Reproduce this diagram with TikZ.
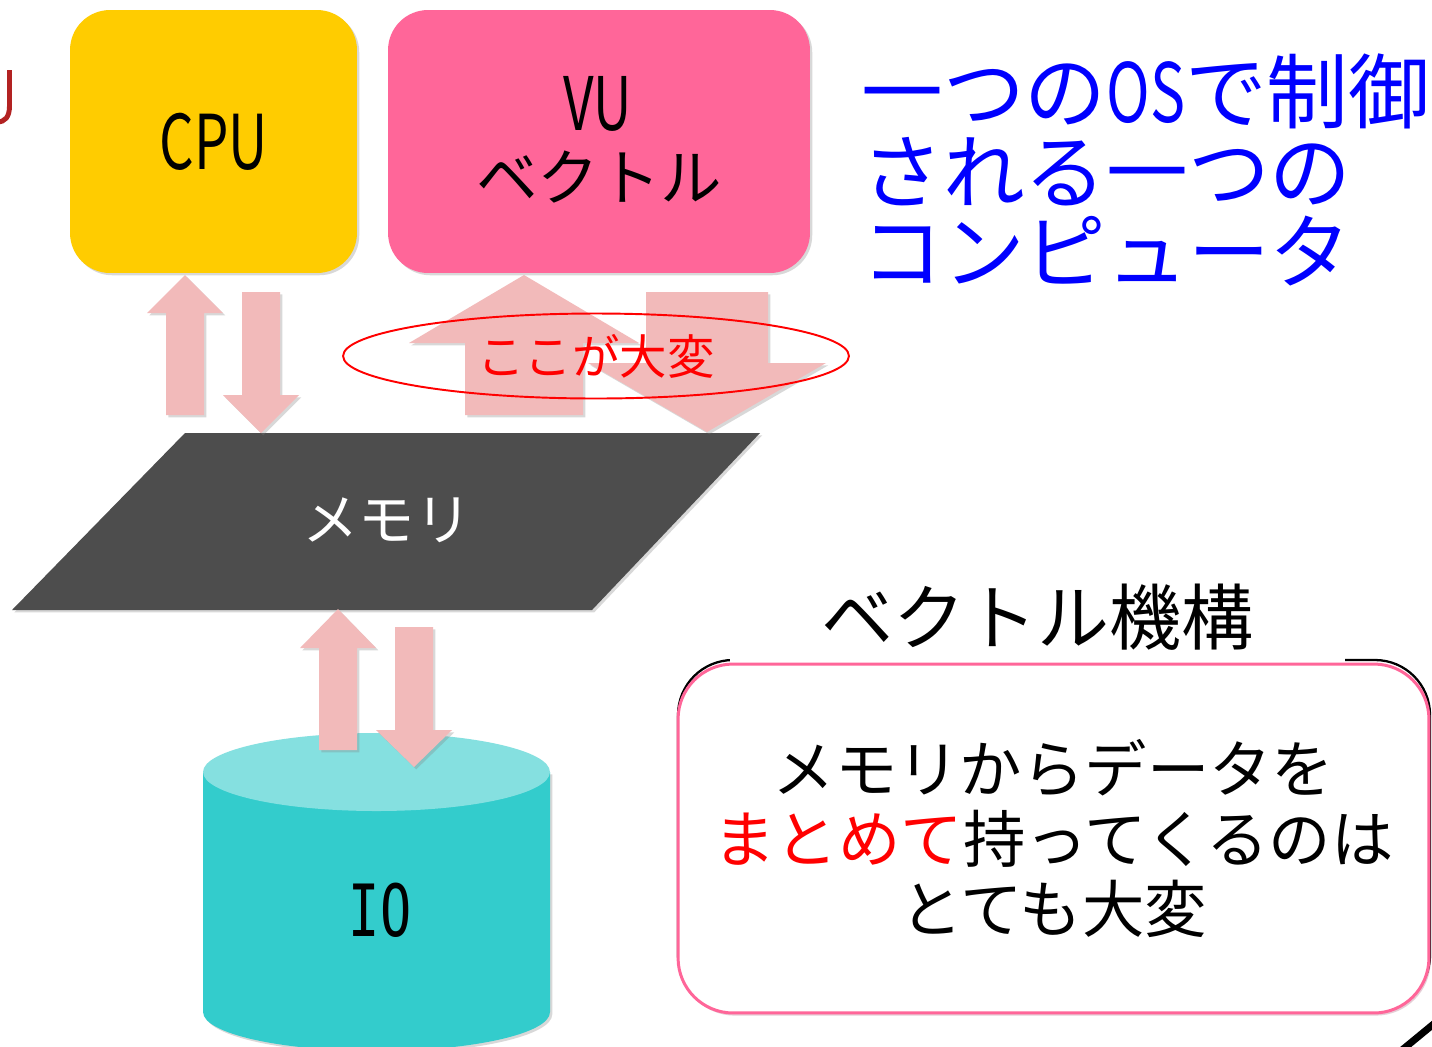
\documentclass[tikz,border=0pt]{standalone}
\usepackage{fontspec}
\setmainfont{Noto Sans CJK JP}
\newfontfamily\narrowfont[FakeStretch=0.72]{Noto Sans CJK JP}
\newfontfamily\iofont[FakeStretch=0.72]{DejaVu Sans Mono}
\usetikzlibrary{shapes.geometric,shadows}

\definecolor{cpuyellow}{HTML}{FFCC00}
\definecolor{vupink}{HTML}{FF6699}
\definecolor{arrowpink}{HTML}{F2BABA}
\definecolor{memgray}{HTML}{4D4D4D}
\definecolor{iocyan}{HTML}{33CCCC}
\definecolor{iotop}{HTML}{85E0E0}
\definecolor{titlered}{HTML}{B22222}

\tikzset{
  shad/.style={drop shadow={shadow xshift=1.3pt,shadow yshift=-1.3pt,opacity=0.3}},
  unitbox/.style={rounded corners=0.8cm, inner sep=0pt, shad},
  blockarrow/.style={fill=arrowpink, shad},
}

% block arrow: x centre, tip y, head base y, tail y, head half width, shaft half width
\newcommand{\blockarr}[6]{%
  \path[blockarrow] (#1,#2) -- (#1+#5,#3) -- (#1+#6,#3) -- (#1+#6,#4)
    -- (#1-#6,#4) -- (#1-#6,#3) -- (#1-#5,#3) -- cycle;}

\begin{document}
\begin{tikzpicture}[x=0.02cm, y=-0.02cm]
  \useasboundingbox (0,0) rectangle (1432,1046);
  \clip (0,0) rectangle (1432,1046);
  \fill[white] (0,0) rectangle (1432,1046);

  % cut-off title letter at the left edge
  \draw[titlered, line width=2.8pt] (9.5,70) -- (9.5,106)
    .. controls (9.5,117) and (5,122) .. (-3,122);

  % processing units
  \node[unitbox, fill=cpuyellow, minimum width=5.74cm, minimum height=5.26cm]
    (cpu) at (213.5,141.5) {};
  \node[font=\narrowfont\fontsize{43}{43}\selectfont] (cpuname) at (cpu) {CPU};
  \node[unitbox, fill=vupink, minimum width=8.44cm, minimum height=5.26cm]
    (vu) at (599,141.5) {};
  \node[font=\narrowfont\fontsize{42}{42}\selectfont] (vuname) at (598,104) {VU};
  \node[font=\fontsize{35}{35}\selectfont] (vutext) at (599,177) {ベクトル};

  % memory
  \path[fill=memgray, shad] (185,433) -- (760,433) -- (592,610) -- (12,610) -- cycle;
  \node[text=white, font=\fontsize{32}{32}\selectfont] (mem) at (387,520) {メモリ};

  % IO cylinder
  \path[fill=iocyan, shad] (203,772) -- (550,772) -- (550,1012)
    arc[start angle=0, end angle=-180, x radius=3.47cm, y radius=0.78cm] -- cycle;
  \fill[iotop] (376.5,772) ellipse[x radius=3.47cm, y radius=0.78cm];
  \node[font=\iofont\fontsize{41}{41}\selectfont] (io) at (380,910) {IO};

  % transfers
  \blockarr{185}{275}{313}{415}{38}{19}
  \blockarr{261}{433}{395}{292}{38}{19}
  \blockarr{524}{275}{343}{415}{115}{59}
  \blockarr{707}{432}{363}{292}{119}{61}
  \blockarr{338}{609}{648}{750}{38}{19}
  \blockarr{414}{767}{730}{627}{38}{19}

  % the hard part
  \node[ellipse, draw=red, line width=1.1pt, inner sep=0pt,
    minimum width=10.12cm, minimum height=1.7cm, text=red,
    font=\fontsize{27}{27}\selectfont] (hard) at (596,356) {ここが大変};

  % one computer
  \node[anchor=west, align=left, text=blue, inner sep=0pt,
    font=\fontsize{46.5}{45.4}\selectfont] (onecomp) at (861,170)
    {一つの{\narrowfont OS}で制御\\される一つの\\コンピュータ};

  % vector unit note
  \draw[black, line width=1.3pt, rounded corners=1.1cm] (678,660) rectangle (1430,1010);
  \node[fill=white, minimum width=12.3cm, minimum height=2cm,
    font=\fontsize{41}{41}\selectfont] (vtitle) at (1037.5,617) {ベクトル機構};
  \node[draw=vupink, line width=1.7pt, fill=white, rounded corners=1.1cm,
    minimum width=15.02cm, minimum height=6.98cm, align=center,
    drop shadow={shadow xshift=1pt,shadow yshift=-1.5pt,opacity=0.25,fill=vupink!60!black},
    font=\fontsize{35.5}{39.7}\selectfont] (note) at (1053.5,838.5)
    {メモリからデータを\\{\color{red}まとめて}持ってくるのは\\とても大変};

  % stray stroke at the corner
  \draw[black, line width=4pt] (1402,1050) -- (1436,1022);
\end{tikzpicture}
\end{document}
